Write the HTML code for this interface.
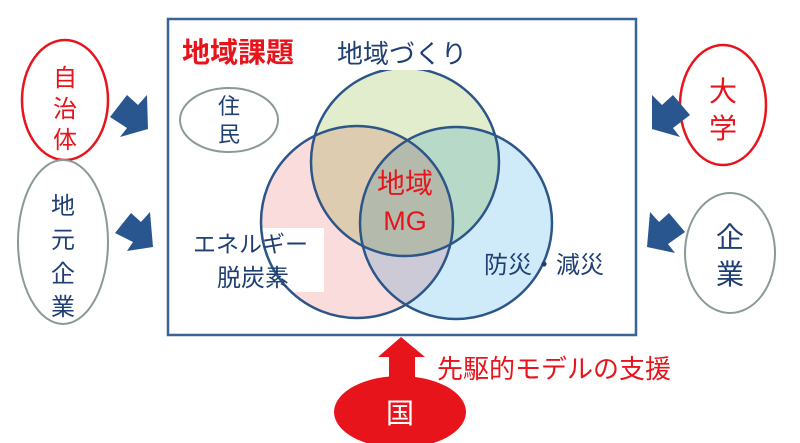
<!DOCTYPE html>
<html><head><meta charset="utf-8"><style>
html,body{margin:0;padding:0;background:#fff}
svg{display:block}
text{font-family:"Liberation Sans","Noto Sans CJK JP",sans-serif}
</style></head><body>
<svg width="800" height="443" viewBox="0 0 800 443">
<rect x="168" y="19" width="468" height="316" fill="#fff" stroke="#3a6496" stroke-width="2.5"/>
<g>
<circle cx="405" cy="162" r="94" fill="#e2edcd" style="mix-blend-mode:multiply"/>
<circle cx="357" cy="222" r="96" fill="#fbdcdc" style="mix-blend-mode:multiply"/>
<circle cx="456" cy="223" r="96" fill="#cfeaf8" style="mix-blend-mode:multiply"/>
</g>
<rect x="190" y="228" width="134" height="64" fill="#fff"/>
<g fill="none" stroke="#2c5588" stroke-width="2.5">
<circle cx="405" cy="162" r="94"/>
<circle cx="357" cy="222" r="96"/>
<circle cx="456" cy="223" r="96"/>
</g>
<rect x="335" y="34" width="145" height="36" fill="#fff"/>
<text x="182" y="62" font-size="28" font-weight="bold" fill="#e8141c">地域課題</text>
<text x="337" y="63" font-size="26" fill="#1f3f72">地域づくり</text>
<ellipse cx="229" cy="120" rx="49" ry="32" fill="#fff" stroke="#8a9a98" stroke-width="2"/>
<text x="229" y="114" font-size="22" fill="#1f3f72" text-anchor="middle">住</text>
<text x="229" y="142" font-size="22" fill="#1f3f72" text-anchor="middle">民</text>
<text x="193" y="252" font-size="23" fill="#1f3f72">エネルギー</text>
<text x="217" y="286" font-size="24" fill="#1f3f72">脱炭素</text>
<text x="484" y="273" font-size="24" fill="#1f3f72">防災・減災</text>
<text x="405" y="193" font-size="28" fill="#e8141c" text-anchor="middle">地域</text>
<text x="405" y="230" font-size="27" fill="#e8141c" text-anchor="middle">MG</text>
<ellipse cx="65" cy="100" rx="43" ry="60" fill="#fff" stroke="#e8141c" stroke-width="2.5"/>
<text x="65" y="86" font-size="24" fill="#e8141c" text-anchor="middle">自</text>
<text x="65" y="117" font-size="24" fill="#e8141c" text-anchor="middle">治</text>
<text x="65" y="148" font-size="24" fill="#e8141c" text-anchor="middle">体</text>
<ellipse cx="63" cy="242" rx="45" ry="82" fill="#fff" stroke="#8a9a98" stroke-width="2"/>
<text x="63" y="214" font-size="24" fill="#1f3f72" text-anchor="middle">地</text>
<text x="63" y="248" font-size="24" fill="#1f3f72" text-anchor="middle">元</text>
<text x="63" y="282" font-size="24" fill="#1f3f72" text-anchor="middle">企</text>
<text x="63" y="315" font-size="24" fill="#1f3f72" text-anchor="middle">業</text>
<ellipse cx="723" cy="105" rx="43" ry="60" fill="#fff" stroke="#e8141c" stroke-width="2.5"/>
<text x="723" y="101" font-size="28" fill="#e8141c" text-anchor="middle">大</text>
<text x="723" y="138" font-size="28" fill="#e8141c" text-anchor="middle">学</text>
<ellipse cx="730" cy="253" rx="45" ry="60" fill="#fff" stroke="#8a9a98" stroke-width="2"/>
<text x="730" y="247" font-size="28" fill="#1f3f72" text-anchor="middle">企</text>
<text x="730" y="284" font-size="28" fill="#1f3f72" text-anchor="middle">業</text>
<g fill="#2a5690">
<polygon points="110,117 127,95 138,105 147,95 148,129 120,137 127,128"/>
<polygon points="115,233 131,213 141,222 150,212 153,247 127,251 133,242"/>
<polygon points="690,115 673,95 662,105 652,95 652,129 680,137 673,128"/>
<polygon points="685,232 669,213 659,222 650,212 647,247 675,253 668,244"/>
</g>
<polygon points="378,357 401,337 425,357 415,357 415,378 389,378 389,357" fill="#e8141c"/>
<ellipse cx="400" cy="412" rx="66" ry="36" fill="#e8141c"/>
<text x="400" y="423" font-size="28" fill="#fff" text-anchor="middle">国</text>
<text x="437" y="378" font-size="26" fill="#e8141c">先駆的モデルの支援</text>
</svg>
</body></html>
